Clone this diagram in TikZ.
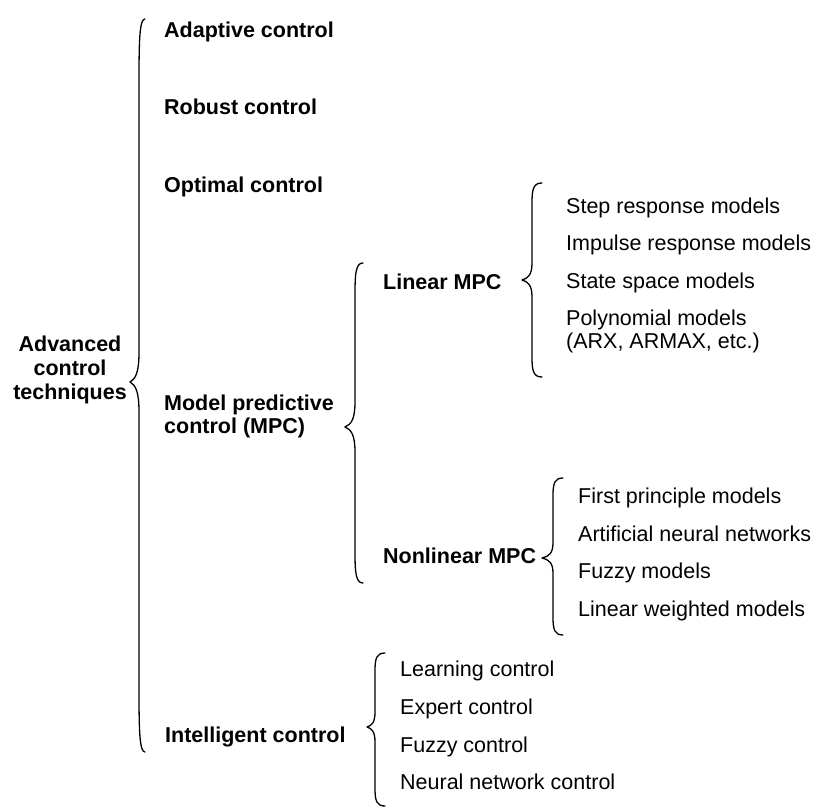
\documentclass[tikz,border=0pt]{standalone}
\usepackage{fontspec}
\setmainfont{Liberation Sans}

% Curly brace opening to the right:
% #1 stem x, #2 top y, #3 bottom y, #4 tip y,
% #5 reach of the ends, #6 reach of the tip, #7 bend of the ends, #8 bend at the tip
\newcommand{\wordbrace}[8]{%
  \draw[bracestyle]
    (#1+#5,#2) .. controls (#1+0.15*#5,#2) and (#1,#2+0.3*#7) .. (#1,#2+#7)
    -- (#1,#4-#8) .. controls (#1,#4-0.3*#8) and (#1-0.4*#6,#4-0.1*#8) .. (#1-#6,#4)
    .. controls (#1-0.4*#6,#4+0.1*#8) and (#1,#4+0.3*#8) .. (#1,#4+#8)
    -- (#1,#3-#7) .. controls (#1,#3-0.3*#7) and (#1+0.15*#5,#3) .. (#1+#5,#3);}

\begin{document}
\begin{tikzpicture}[x=1pt,y=-1pt,
  item/.style={inner sep=0pt, anchor=base west, font=\fontsize{21.5}{23}\selectfont},
  head/.style={inner sep=0pt, anchor=base west, font=\fontsize{21.5}{23}\selectfont\bfseries},
  bracestyle/.style={line width=1.3pt, line cap=round, line join=round}]

\useasboundingbox (0,0) rectangle (815,808);

% root
\node[inner sep=0pt, align=center, font=\fontsize{21.5}{24}\selectfont\bfseries]
  (root) at (70,370) {Advanced\\control\\techniques};
\wordbrace{139}{19}{752}{382}{6}{9}{60}{30}

% first level (multi-line nodes sit on the baseline of their last line)
\node[head] (adaptive) at (164,38) {Adaptive control};
\node[head] (robust) at (164,115) {Robust control};
\node[head] (optimal) at (164,193) {Optimal control};
\node[head, align=left] (mpc) at (164,433) {Model predictive\\control (MPC)};
\node[head] (intel) at (165,742) {Intelligent control};

% model predictive control
\wordbrace{355}{263}{583}{427}{8}{10}{30}{25}
\node[head] (lin) at (383,289) {Linear MPC};
\node[head] (nonlin) at (383,563) {Nonlinear MPC};

% linear MPC models
\wordbrace{532}{183}{377}{280}{10}{10}{20}{17}
\node[item] (step) at (566,213.5) {Step response models};
\node[item] (impulse) at (566,250.5) {Impulse response models};
\node[item] (state) at (566,288.5) {State space models};
\node[item, align=left] (poly) at (566,348.5) {Polynomial models\\(ARX, ARMAX, etc.)};

% nonlinear MPC models
\wordbrace{553}{478}{635}{558}{10}{11}{18}{15}
\node[item] (first) at (578,503.5) {First principle models};
\node[item] (ann) at (578,541.5) {Artificial neural networks};
\node[item] (fuzzym) at (578,578.5) {Fuzzy models};
\node[item] (lwm) at (578,616.5) {Linear weighted models};

% intelligent control
\wordbrace{375}{653}{806}{727}{10}{8}{18}{15}
\node[item] (learn) at (400,676.5) {Learning control};
\node[item] (expert) at (400,714.5) {Expert control};
\node[item] (fuzzyc) at (400,752.5) {Fuzzy control};
\node[item] (neural) at (400,789.5) {Neural network control};

\end{tikzpicture}
\end{document}
